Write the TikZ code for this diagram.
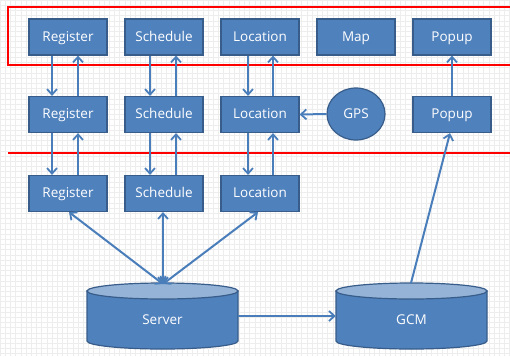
\documentclass[tikz,border=0pt]{standalone}
\usepackage{fontspec}
\setmainfont{Open Sans}
\usetikzlibrary{arrows.meta,shapes.geometric}
\definecolor{boxfill}{HTML}{4F81BD}
\definecolor{boxline}{HTML}{385D8A}
\definecolor{cyltop}{HTML}{95B3D7}
\definecolor{arrowc}{HTML}{4A7EBB}
\definecolor{gridc}{HTML}{EDEDED}
\begin{document}
\begin{tikzpicture}[x=1pt,y=-1pt,
  lbl/.style={text=white,font=\fontsize{13.5}{15}\selectfont,text height=10pt,text depth=1.5pt},
  box/.style={lbl,draw=boxline,fill=boxfill,line width=1.2pt,minimum width=78pt,minimum height=36pt,inner sep=0pt},
  gpsnode/.style={lbl,draw=boxline,fill=boxfill,line width=1.2pt,ellipse,minimum width=58pt,minimum height=52pt,inner sep=0pt},
  cylbody/.style={draw=boxline,fill=boxfill,line width=1.2pt},
  cyltopst/.style={draw=boxline,fill=cyltop,line width=1.2pt},
  cyllabel/.style={lbl,minimum width=151pt,minimum height=66pt,inner sep=0pt},
  tip/.tip={Straight Barb[length=5.5pt,width=10pt,line width=1.8pt]},
  arr/.style={draw=arrowc,line width=2pt,-tip},
  darr/.style={draw=arrowc,line width=2pt,tip-tip},
  redline/.style={draw=red,line width=1.8pt}
]
\useasboundingbox (0,0) rectangle (510,356);
\clip (0,0) rectangle (510,356);
\fill[white] (0,0) rectangle (510,356);
\draw[gridc,line width=0.5pt,step=5.2pt] (0,0) grid (510,356);

% red boundaries
\draw[redline] (8,7) rectangle (530,65);
\draw[redline] (8,153) -- (510,153);

% row 1
\node[box] (r1) at (68,37) {Register};
\node[box] (s1) at (164,37) {Schedule};
\node[box] (l1) at (260,37) {Location};
\node[box] (m1) at (356,37) {Map};
\node[box] (p1) at (452,37) {Popup};
% row 2
\node[box] (r2) at (68,114.5) {Register};
\node[box] (s2) at (164,114.5) {Schedule};
\node[box] (l2) at (260,114.5) {Location};
\node[gpsnode] (gps) at (356,114) {GPS};
\node[box] (p2) at (452,114.5) {Popup};
% row 3
\node[box] (r3) at (68,193.5) {Register};
\node[box] (s3) at (164,193.5) {Schedule};
\node[box] (l3) at (260,193.5) {Location};

% cylinders
\path[cylbody] (87,291) -- (87,341) arc[start angle=180,end angle=360,x radius=75.5,y radius=-8] -- (238,291) -- cycle;
\path[cyltopst] (162.5,291) ellipse[x radius=75.5,y radius=8];
\node[cyllabel] (srv) at (162.5,320) {Server};
\path[cylbody] (336,291) -- (336,341) arc[start angle=180,end angle=360,x radius=75.5,y radius=-8] -- (487,291) -- cycle;
\path[cyltopst] (411.5,291) ellipse[x radius=75.5,y radius=8];
\node[cyllabel] (gcm) at (411.5,320) {GCM};

% vertical arrows row1 <-> row2
\draw[arr] ([xshift=-16pt]r1.south) -- ([xshift=-16pt]r2.north);
\draw[arr] ([xshift=10pt]r2.north) -- ([xshift=10pt]r1.south);
\draw[arr] ([xshift=-14pt]s1.south) -- ([xshift=-14pt]s2.north);
\draw[arr] ([xshift=12pt]s2.north) -- ([xshift=12pt]s1.south);
\draw[arr] ([xshift=-12pt]l1.south) -- ([xshift=-12pt]l2.north);
\draw[arr] ([xshift=13pt]l2.north) -- ([xshift=13pt]l1.south);
% row2 <-> row3
\draw[arr] ([xshift=-16pt]r2.south) -- ([xshift=-16pt]r3.north);
\draw[arr] ([xshift=10pt]r3.north) -- ([xshift=10pt]r2.south);
\draw[arr] ([xshift=-14pt]s2.south) -- ([xshift=-14pt]s3.north);
\draw[arr] ([xshift=12pt]s3.north) -- ([xshift=12pt]s2.south);
\draw[arr] ([xshift=-12pt]l2.south) -- ([xshift=-12pt]l3.north);
\draw[arr] ([xshift=13pt]l3.north) -- ([xshift=13pt]l2.south);
% GPS, popup
\draw[arr] (gps.west) -- (l2.east);
\draw[arr] (p2.north) -- (p1.south);
% row3 <-> server
\coordinate (srvtop) at (163,284);
\draw[darr] ([xshift=1pt]r3.south) -- (srvtop);
\draw[darr] ([xshift=-1pt]s3.south) -- (srvtop);
\draw[darr] ([xshift=-2pt]l3.south) -- (srvtop);
% server -> gcm, gcm -> popup
\draw[arr] ([yshift=4pt]srv.east) -- ([yshift=4pt]gcm.west);
\coordinate (gcmtop) at (411,283);
\draw[arr] (gcmtop) -- ([xshift=-2pt]p2.south);
\end{tikzpicture}
\end{document}
